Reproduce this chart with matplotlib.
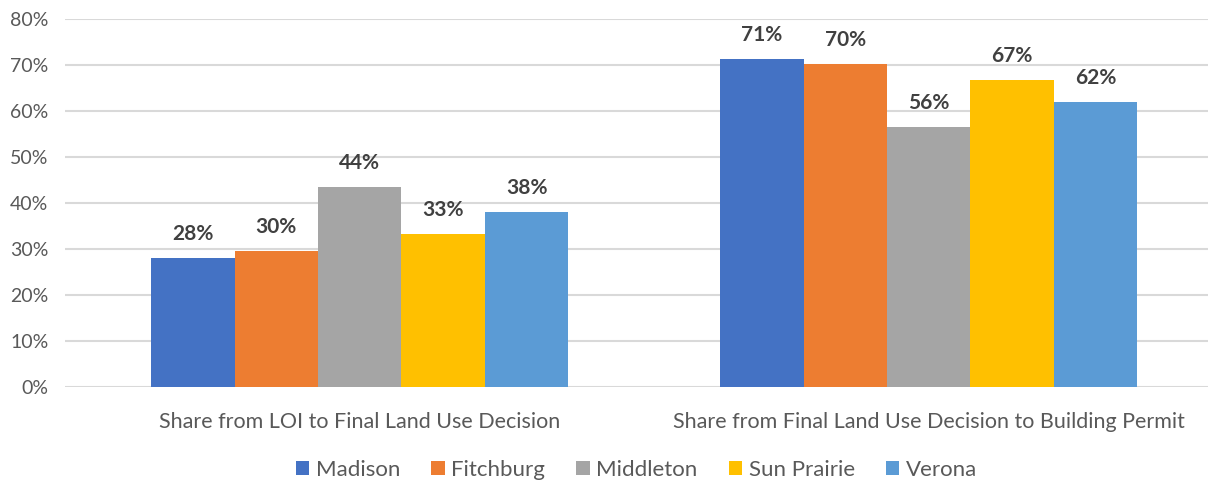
import numpy as np
import matplotlib.pyplot as plt

# data
categories = ['Share from LOI to Final Land Use Decision',
              'Share from Final Land Use Decision to Building Permit']
cities = ['Madison', 'Fitchburg', 'Middleton', 'Sun Prairie', 'Verona']
madison = [28.1, 71.4]
fitchburg = [29.6, 70.3]
middleton = [43.5, 56.5]
sun_prairie = [33.3, 66.7]
verona = [38.0, 62.0]
yticks = [0, 10, 20, 30, 40, 50, 60, 70, 80]

colors = ['#4472C4', '#ED7D31', '#A5A5A5', '#FFC000', '#5B9BD5']
series = [madison, fitchburg, middleton, sun_prairie, verona]

plt.rcParams['font.family'] = ['Lato', 'DejaVu Sans']

fig = plt.figure(figsize=(12.08, 4.82), dpi=100)
ax = fig.add_axes([65 / 1208, 1 - 387 / 482, (1208 - 65) / 1208, (387 - 19) / 482])

x = np.arange(len(categories))
w = 0.1466
for i, vals in enumerate(series):
    pos = x + (i - 2) * w
    ax.bar(pos, vals, width=w, color=colors[i], label=cities[i], zorder=3, linewidth=0)
    for p, v in zip(pos, vals):
        ax.text(p, v + 3.0, '%d%%' % round(v), ha='center', va='bottom',
                fontsize=15, fontweight='bold', color='#404040')

ax.set_ylim(0, 80)
ax.set_xlim(-0.518, 1.491)
ax.set_yticks(yticks)
ax.set_yticklabels(['%d%%' % t for t in yticks])
ax.set_xticks(x)
ax.set_xticklabels(categories)
ax.grid(axis='y', color='#D9D9D9', linewidth=1.5, zorder=0)
for s in ax.spines.values():
    s.set_visible(False)
ax.tick_params(axis='both', length=0, colors='#595959')
ax.tick_params(axis='y', labelsize=14, pad=12)
ax.tick_params(axis='x', labelsize=15.5, pad=18)
for lab in ax.get_yticklabels():
    lab.set_horizontalalignment('right')

ax.legend(loc='center', bbox_to_anchor=(0.5, -0.225), ncol=5, frameon=False,
          fontsize=16, handlelength=0.6, handleheight=0.6, handletextpad=0.3,
          columnspacing=1.4, labelcolor='#595959')

fig.savefig('out.png', dpi=100)
